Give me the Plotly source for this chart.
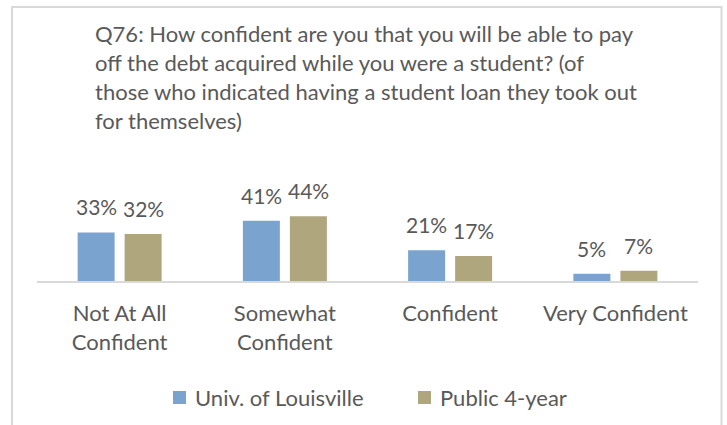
import plotly.graph_objects as go

# Survey results, percent of respondents
categories = ["Not At All<br>Confident", "Somewhat<br>Confident", "Confident", "Very Confident"]
series_names = ["Univ. of Louisville", "Public 4-year"]
louisville = [33, 41, 21, 5]
public_4yr = [32, 44, 17, 7]
series_values = [louisville, public_4yr]
series_colors = ["#7BA3CF", "#AFA67E"]

title_lines = [
    "Q76: How confident are you that you will be able to pay",
    "off the debt acquired while you were a student? (of",
    "those who indicated having a student loan they took out",
    "for themselves)",
]

W, H = 727, 425
L, R, T, B = 37, 29, 131, 144
PW, PH = W - L - R, H - T - B
FONT = "Lato"
GRAY = "#595959"
FS = 22
FS_LABEL = 21


def px(x):
    return (x - L) / PW


def py(y):
    return (H - B - y) / PH


fig = go.Figure()
offsets = [-23.5, 23.5]
annotations = []
for name, vals, col, off in zip(series_names, series_values, series_colors, offsets):
    fig.add_trace(go.Bar(x=categories, y=vals, name=name, marker_color=col,
                         marker_line_width=0, showlegend=False))
    for cat, v in zip(categories, vals):
        annotations.append(dict(x=cat, y=v, xref="x", yref="y", text=f"{v}%",
                                showarrow=False, xshift=off, yanchor="bottom", yshift=11,
                                font=dict(family=FONT, size=FS_LABEL, color=GRAY)))

# title, one line per annotation for fixed line spacing
baselines = [44, 73, 102, 131]
for line, bl in zip(title_lines, baselines):
    annotations.append(dict(x=px(93), y=py(bl - 11), xref="paper", yref="paper",
                            xanchor="left", yanchor="middle", showarrow=False, text=line,
                            font=dict(family=FONT, size=FS, color=GRAY)))

# legend
shapes = []
legend_items = [(173, 193), (418, 438)]
for (sx, tx), name, col in zip(legend_items, series_names, series_colors):
    shapes.append(dict(type="rect", xref="paper", yref="paper",
                       x0=px(sx), x1=px(sx + 13), y0=py(391), y1=py(404),
                       fillcolor=col, line_width=0))
    annotations.append(dict(x=px(tx), y=py(397.5), xref="paper", yref="paper",
                            xanchor="left", yanchor="middle", showarrow=False, text=name,
                            font=dict(family=FONT, size=FS, color=GRAY)))

# chart frame
shapes.append(dict(type="rect", xref="paper", yref="paper",
                   x0=px(12), x1=px(721.5), y0=py(7), y1=py(445),
                   line=dict(color="#D9D9D9", width=2), fillcolor="rgba(0,0,0,0)"))

fig.update_layout(
    width=W, height=H,
    margin=dict(l=L, r=R, t=T, b=B, pad=0),
    paper_bgcolor="white", plot_bgcolor="white",
    barmode="group", bargap=0.431, bargroupgap=0.213,
    annotations=annotations, shapes=shapes,
    font=dict(family=FONT, size=FS, color=GRAY),
    xaxis=dict(showline=True, linecolor="#D9D9D9", linewidth=2, ticks="",
               showgrid=False, tickfont=dict(family=FONT, size=FS, color=GRAY),
               ticklabelstandoff=12),
    yaxis=dict(range=[0, PH / 1.47], visible=False, showgrid=False),
)

fig.write_html("out.html")
